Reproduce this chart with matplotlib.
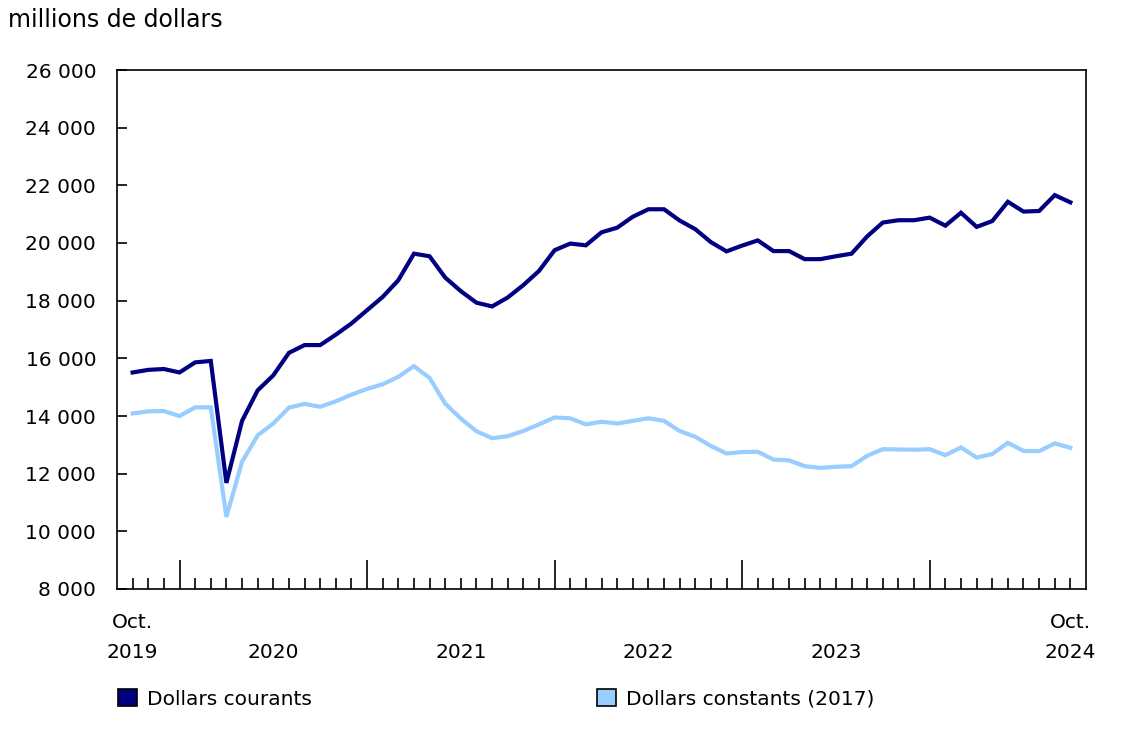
import matplotlib
matplotlib.use("Agg")
import matplotlib.pyplot as plt
from matplotlib.patches import Patch
from matplotlib.ticker import FuncFormatter

# monthly values, Oct 2019 .. Oct 2024 (millions de dollars)
courants = [15510, 15600, 15630, 15510, 15860, 15910, 11680, 13830, 14890, 15410,
            16190, 16460, 16460, 16820, 17210, 17670, 18130, 18710, 19630, 19540,
            18800, 18330, 17930, 17800, 18110, 18540, 19030, 19750, 19980, 19920,
            20370, 20530, 20910, 21170, 21170, 20780, 20480, 20030, 19710, 19910,
            20090, 19720, 19720, 19440, 19440, 19540, 19630, 20230, 20710, 20790,
            20790, 20880, 20600, 21050, 20560, 20760, 21430, 21090, 21110, 21660,
            21410]
constants = [14090, 14160, 14170, 14000, 14300, 14300, 10500, 12410, 13330, 13740,
             14290, 14420, 14320, 14510, 14740, 14940, 15100, 15360, 15730, 15320,
             14430, 13910, 13470, 13230, 13300, 13480, 13710, 13950, 13920, 13710,
             13800, 13740, 13830, 13920, 13830, 13480, 13280, 12960, 12700, 12750,
             12760, 12490, 12460, 12260, 12200, 12240, 12260, 12620, 12850, 12840,
             12830, 12850, 12640, 12910, 12560, 12680, 13070, 12790, 12780, 13050,
             12900]
year_labels = ["2019", "2020", "2021", "2022", "2023", "2024"]
year_label_pos = [0, 9, 21, 33, 45, 60]
month_labels = ["Oct.", "Oct."]
month_label_pos = [0, 60]
jan_pos = [3, 15, 27, 39, 51]

dark = "#000080"
light = "#99ccff"

plt.rcParams["font.family"] = ["DejaVu Sans"]
plt.rcParams["font.size"] = 14.5

fig = plt.figure(figsize=(11.28, 7.33), dpi=100)
ax = fig.add_axes([117 / 1128, 1 - 589 / 733, (1086 - 117) / 1128, (589 - 70) / 733])

months = list(range(len(courants)))
ax.plot(months, courants, color=dark, lw=3, solid_joinstyle="miter")
ax.plot(months, constants, color=light, lw=3, solid_joinstyle="miter")

ax.set_xlim(-1, 61)
ax.set_ylim(8000, 26000)
ax.set_yticks(range(8000, 26001, 2000))
ax.yaxis.set_major_formatter(FuncFormatter(lambda v, p: f"{int(v):,}".replace(",", " ")))
ax.tick_params(axis="y", direction="in", length=7.5, width=1.2, pad=15)

ax.set_xticks(jan_pos)
ax.set_xticks([m for m in months if m not in jan_pos], minor=True)
ax.tick_params(axis="x", which="major", direction="in", length=21, width=1.2, labelbottom=False)
ax.tick_params(axis="x", which="minor", direction="in", length=8, width=1.2)

# axis labels below the plot: y given in axes fraction (axes is 519 px tall)
xt = ax.get_xaxis_transform()
for pos, lab in zip(month_label_pos, month_labels):
    ax.text(pos, -33 / 519, lab, transform=xt, ha="center", va="center")
for pos, lab in zip(year_label_pos, year_labels):
    ax.text(pos, -63 / 519, lab, transform=xt, ha="center", va="center")

for s in ax.spines.values():
    s.set_linewidth(1.2)

fig.text(8 / 1128, 1 - 20 / 733, "millions de dollars", ha="left", va="center", fontsize=17)

handles = [Patch(facecolor=dark, edgecolor="black", lw=1.2, label="Dollars courants"),
           Patch(facecolor=light, edgecolor="black", lw=1.2, label="Dollars constants (2017)")]
fig.legend(handles=handles, loc="center left", bbox_to_anchor=(118 / 1128, 1 - 699 / 733),
           ncol=2, frameon=False, handlelength=0.92, handleheight=0.92, handletextpad=0.5,
           columnspacing=14.2, borderpad=0, borderaxespad=0, fontsize=14.5)

fig.savefig("out.png", dpi=100)
